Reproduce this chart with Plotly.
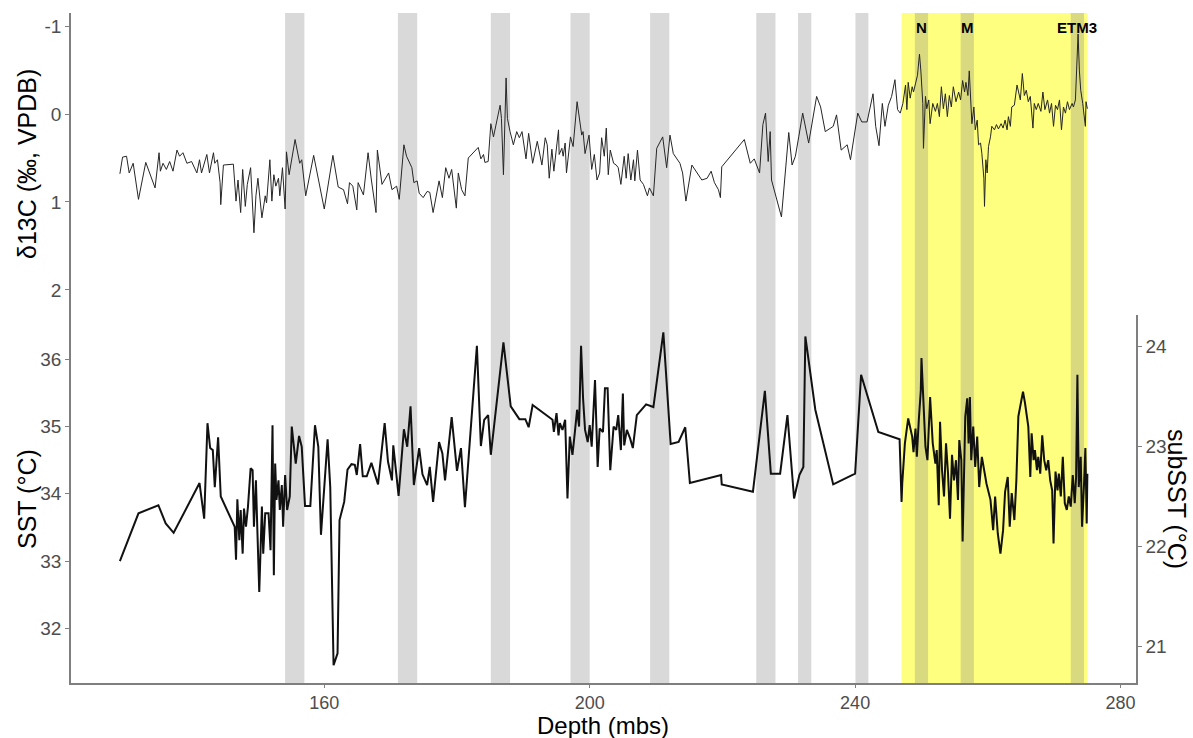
import plotly.graph_objects as go

# ---- carbon isotope record ----
d13c_depth = [129.2, 129.6, 130.2, 130.6, 131.2, 132.0, 133.1, 134.5, 135.1, 135.3, 135.7, 136.2, 136.7, 137.2,
              137.8, 138.2, 138.7, 139.3, 140.0, 140.8, 141.2, 141.5, 142.3, 142.7, 143.3, 143.5, 143.9, 144.0,
              144.3, 144.4, 144.8, 146.3, 146.7, 147.0, 147.4, 147.7, 148.1, 148.4, 148.9, 149.4, 149.7, 150.0,
              150.6, 151.1, 151.3, 151.8, 152.1, 152.4, 152.7, 153.1, 153.3, 153.7, 154.1, 154.3, 154.7, 155.6,
              156.3, 156.6, 157.2, 158.4, 160.0, 161.3, 162.1, 162.9, 163.5, 163.8, 164.3, 164.9, 165.1, 165.9,
              166.6, 167.1, 167.8, 168.0, 168.7, 169.7, 170.2, 170.9, 171.3, 172.0, 172.4, 173.2, 173.5, 174.0,
              174.3, 174.9, 175.5, 175.9, 176.4, 177.3, 177.8, 178.3, 178.8, 179.2, 179.9, 180.2, 180.7, 181.2,
              181.7, 183.2, 183.6, 184.0, 184.2, 184.7, 185.1, 185.5, 186.5, 186.7, 187.0, 187.4, 187.6, 188.0,
              188.5, 189.0, 189.4, 189.8, 190.4, 190.8, 191.4, 192.1, 192.8, 193.3, 193.6, 193.9, 194.3, 194.6,
              195.0, 195.3, 195.4, 195.8, 196.0, 196.3, 196.5, 196.8, 197.1, 197.5, 198.1, 198.8, 199.0, 199.3,
              199.9, 200.3, 200.7, 201.1, 201.5, 201.8, 202.2, 202.5, 202.8, 203.1, 203.6, 204.0, 204.3, 204.7,
              205.2, 205.5, 205.8, 206.2, 206.6, 206.8, 207.2, 207.6, 208.1, 208.7, 209.0, 209.6, 210.1, 211.0,
              211.6, 212.1, 212.6, 213.6, 214.0, 214.5, 215.4, 216.9, 217.7, 218.3, 218.8, 219.4, 219.7, 219.9,
              223.3, 224.2, 224.8, 225.6, 226.1, 226.5, 226.9, 227.2, 227.4, 228.9, 230.0, 230.5, 231.0, 231.5,
              232.1, 233.0, 234.2, 234.8, 235.5, 236.7, 237.2, 237.9, 238.8, 239.3, 240.4, 241.0, 241.8, 242.7,
              243.1, 243.6, 244.1, 244.5, 245.0, 245.5, 246.0, 246.4, 246.8,
              247.2, 247.6, 247.8, 248.0, 248.3, 248.6, 248.8, 249.1, 249.4, 249.7, 249.9, 250.2, 250.3, 250.6,
              250.8, 251.1, 251.3, 251.7, 252.1, 252.4, 252.7, 253.0, 253.3, 253.6, 253.9, 254.2, 254.5, 254.8,
              255.2, 255.6, 255.9, 256.2, 256.5, 256.7, 257.0, 257.2, 257.4, 257.6, 257.9, 258.1, 258.4, 258.6,
              258.9, 259.1, 259.4, 259.5, 259.7, 259.9, 260.1, 260.4, 260.6, 261.0, 261.3, 261.6, 262.0, 262.3,
              262.6, 262.9, 263.1, 263.4, 263.6, 264.0, 264.4, 264.6, 264.9, 265.2, 265.5, 265.8, 266.1, 266.4,
              266.6, 266.8, 267.0, 267.3, 267.6, 268.0, 268.3, 268.6, 269.0, 269.3, 269.6, 269.9, 270.2, 270.5,
              270.8, 271.1, 271.4, 271.7, 272.0, 272.3, 272.7, 272.9, 273.2, 273.4, 273.6, 273.8, 274.0, 274.3,
              274.5, 274.7, 274.8, 275.0]
d13c = [0.68, 0.49, 0.48, 0.67, 0.56, 0.97, 0.55, 0.84, 0.44, 0.65, 0.56, 0.63, 0.54, 0.65,
        0.41, 0.48, 0.44, 0.56, 0.54, 0.67, 0.52, 0.67, 0.46, 0.67, 0.44, 0.56, 0.52, 0.61,
        0.78, 1.03, 0.58, 0.57, 0.99, 0.75, 1.12, 0.63, 1.05, 0.80, 0.61, 1.35, 0.93, 0.73,
        1.18, 0.93, 1.01, 0.52, 0.99, 0.69, 0.82, 0.73, 0.93, 0.61, 1.08, 0.43, 0.69, 0.29,
        0.56, 0.52, 0.93, 0.47, 1.08, 0.47, 0.83, 0.86, 1.02, 0.78, 0.82, 1.09, 0.78, 0.92,
        0.44, 0.75, 1.12, 0.41, 0.80, 0.67, 0.86, 0.82, 0.97, 0.35, 0.48, 0.61, 0.78, 0.76,
        0.90, 0.95, 0.88, 0.89, 1.12, 0.76, 0.95, 0.61, 0.73, 0.63, 1.07, 0.67, 0.86, 0.93,
        0.50, 0.38, 0.51, 0.46, 0.55, 0.54, 0.11, 0.26, -0.10, 0.05, 0.69, -0.41, 0.05, 0.20,
        0.35, 0.20, 0.27, 0.20, 0.51, 0.22, 0.56, 0.31, 0.58, 0.27, 0.35, 0.73, 0.40, 0.65,
        0.41, 0.18, 0.46, 0.39, 0.48, 0.33, 0.67, 0.45, 0.26, 0.37, -0.14, 0.24, 0.20, 0.45,
        0.24, 0.63, 0.46, 0.75, 0.67, 0.27, 0.48, 0.16, 0.69, 0.41, 0.56, 0.58, 0.61, 0.80,
        0.48, 0.73, 0.45, 0.75, 0.52, 0.76, 0.41, 0.75, 0.80, 0.93, 0.84, 0.93, 0.39, 0.26,
        0.61, 0.24, 0.45, 0.56, 0.67, 0.99, 0.58, 0.75, 0.73, 0.65, 0.78, 0.86, 0.95, 0.60,
        0.29, 0.56, 0.51, 0.67, 0.12, -0.01, 0.54, 0.20, 0.75, 1.17, 0.21, 0.58, 0.48, 0.26,
        -0.01, 0.33, -0.20, -0.08, 0.20, 0.14, 0.01, 0.41, 0.35, 0.52, -0.01, 0.09, 0.09, -0.23,
        0.14, 0.36, -0.12, 0.14, -0.10, -0.20, -0.39, -0.05, -0.01,
        -0.12, -0.33, -0.05, -0.36, -0.18, -0.31, -0.25, -0.33, -0.44, -0.68, -0.50, -0.12, 0.39, -0.20,
        -0.06, -0.16, 0.11, -0.12, -0.03, -0.12, 0.03, -0.31, -0.06, -0.23, 0.03, -0.21, -0.08, -0.31,
        -0.14, -0.25, -0.16, -0.38, -0.25, -0.36, -0.21, -0.49, -0.08, 0.11, -0.08, 0.18, 0.07, 0.35,
        0.33, 0.45, 0.73, 1.05, 0.52, 0.67, 0.37, 0.26, 0.14, 0.18, 0.12, 0.17, 0.11, 0.16,
        0.07, 0.18, 0.03, 0.14, -0.08, -0.10, -0.33, -0.25, -0.16, -0.46, -0.21, -0.27, -0.14, -0.20,
        -0.01, 0.16, -0.12, -0.05, -0.12, -0.03, -0.25, -0.05, -0.16, -0.01, -0.12, 0.14, -0.10, -0.05,
        -0.16, 0.18, -0.08, -0.01, -0.14, -0.05, -0.12, -0.08, -0.16, -0.57, -0.91, -0.49, -0.27, -0.12,
        0.03, 0.14, -0.14, -0.06]

# ---- sea surface temperature record ----
sst_depth = [129.2, 132.0, 135.0, 136.1, 137.3, 141.2, 141.9, 142.4, 142.8, 143.2, 143.5, 144.0, 144.4, 145.3,
             146.5, 146.7, 146.9, 147.2, 147.4, 147.7, 147.9, 148.2, 148.5, 148.9, 149.2, 149.4, 149.7, 149.9,
             150.2, 150.6, 150.8, 151.1, 151.6, 151.9, 152.2, 152.4, 152.6, 152.8, 153.1, 153.3, 153.6, 153.8,
             154.1, 154.4, 154.8, 155.1, 155.7, 156.2, 156.6, 157.1, 157.9, 158.6, 159.1, 159.5, 160.5, 160.9,
             161.4, 162.0, 162.3, 163.0, 163.5, 164.1, 164.6, 164.9, 165.4, 165.8, 166.4, 167.1, 168.1, 169.1,
             169.6, 170.2, 170.4, 171.2, 171.7, 172.0, 172.5, 173.0, 173.5, 174.3, 174.8, 175.5, 175.9, 176.4,
             177.3, 177.8, 178.2, 179.2, 180.0, 180.6, 181.2, 183.0, 183.6, 184.1, 184.7, 185.1, 187.0, 188.1,
             189.4, 190.3, 190.8, 191.4, 194.4, 194.6, 195.0, 195.3, 195.5, 195.9, 196.3, 196.5, 196.65, 197.0,
             197.4, 197.8, 198.1, 198.4, 198.7, 199.0, 199.3, 199.7, 200.0, 200.3, 200.8, 201.2, 201.5, 202.0,
             202.3, 202.7, 203.1, 203.6, 204.0, 204.3, 204.7, 205.0, 205.2, 205.6, 206.1, 206.5, 207.1, 208.5,
             209.6, 211.1, 212.2, 213.4, 214.4, 215.1, 219.8, 219.9, 224.6, 226.4, 227.3, 228.7, 229.8, 230.8,
             231.6, 232.2, 232.5, 234.0, 236.7, 240.0, 240.9, 243.5, 246.7,
             247.0, 247.1, 247.5, 248.0, 248.6, 248.8, 249.1, 249.3, 249.6, 249.9, 250.0, 250.2, 250.6, 250.9,
             251.3, 251.7, 252.1, 252.3, 252.6, 252.8, 253.1, 253.4, 253.7, 254.0, 254.3, 254.6, 254.9, 255.2,
             255.5, 255.7, 256.0, 256.2, 256.4, 256.6, 256.9, 257.1, 257.3, 257.5, 257.8, 258.1, 258.4, 258.7,
             259.1, 259.8, 260.4, 260.8, 261.1, 261.5, 261.9, 262.3, 262.6, 263.0, 263.3, 263.6, 264.0, 264.3,
             264.6, 265.0, 265.3, 265.6, 265.9, 266.1, 266.4, 266.6, 266.9, 267.1, 267.4, 267.6, 267.9, 268.2,
             268.5, 268.8, 269.1, 269.4, 269.7, 269.9, 270.2, 270.5, 270.7, 271.0, 271.3, 271.6, 271.9, 272.2,
             272.5, 272.8, 273.1, 273.3, 273.5, 273.7, 274.0, 274.2, 274.5, 274.7, 274.9, 275.0]
sst = [33.00, 33.71, 33.83, 33.56, 33.42, 34.16, 33.63, 35.05, 34.68, 34.65, 34.10, 34.84, 33.96, 33.76,
       33.51, 33.02, 33.92, 33.31, 33.76, 33.11, 33.78, 33.51, 33.81, 34.38, 34.35, 33.51, 34.20, 33.51,
       32.54, 33.81, 33.11, 33.71, 33.71, 33.16, 35.02, 32.79, 34.45, 33.91, 34.20, 33.76, 34.13, 33.51,
       34.28, 33.76, 33.96, 35.00, 34.45, 34.86, 34.70, 33.82, 33.82, 35.02, 34.70, 33.39, 34.81, 34.10,
       31.45, 31.63, 33.61, 33.88, 34.36, 34.44, 34.43, 34.28, 34.74, 34.26, 34.26, 34.46, 34.14, 35.05,
       34.48, 34.20, 34.72, 33.97, 34.61, 34.96, 34.70, 35.30, 34.13, 34.68, 34.29, 34.13, 34.40, 33.88,
       34.77, 34.60, 34.20, 35.14, 34.34, 34.68, 33.80, 36.20, 34.71, 35.10, 35.17, 34.58, 36.25, 35.30,
       35.11, 35.11, 34.99, 35.32, 35.10, 34.92, 35.20, 34.87, 35.05, 34.95, 35.10, 34.55, 33.93, 34.85,
       34.58, 34.95, 35.25, 35.00, 36.20, 35.42, 34.95, 34.77, 35.02, 34.70, 35.69, 34.40, 34.97, 34.92,
       35.57, 35.57, 34.35, 35.00, 34.95, 35.17, 34.65, 35.49, 34.72, 34.95, 34.82, 34.68, 35.17, 35.33,
       35.29, 36.40, 34.74, 34.77, 34.99, 34.16, 34.28, 34.14, 34.03, 35.53, 34.30, 34.30, 35.17, 33.93,
       34.28, 34.40, 36.34, 35.25, 34.14, 34.30, 35.77, 34.92, 34.81,
       33.88, 34.15, 34.75, 35.12, 34.85, 34.62, 34.97, 34.55, 35.10, 35.54, 36.02, 35.49, 34.70, 34.50,
       35.44, 34.75, 34.45, 34.65, 33.83, 35.07, 34.35, 33.96, 34.75, 34.30, 33.63, 34.58, 34.20, 34.50,
       33.91, 34.80, 34.50, 33.29, 34.45, 35.15, 35.42, 34.75, 35.44, 34.50, 35.00, 34.40, 34.85, 34.10,
       34.55, 34.15, 33.91, 33.46, 33.96, 33.41, 33.11, 33.46, 34.03, 34.25, 33.51, 34.01, 33.61, 34.20,
       35.15, 35.39, 35.52, 35.35, 35.10, 35.00, 34.25, 34.90, 34.50, 34.65, 34.35, 34.55, 34.30, 34.87,
       34.50, 34.35, 34.50, 34.20, 34.05, 33.26, 34.33, 34.05, 34.30, 33.96, 34.55, 33.86, 33.76, 33.96,
       33.81, 34.28, 33.86, 34.25, 35.77, 34.10, 34.55, 33.51, 34.15, 34.68, 33.56, 34.30]

# subsurface temperature scale: linear relation to SST
SUB_SLOPE = 1.487
SUB_ICEPT = 36.19 - SUB_SLOPE * 24.0
subsst = [(v - SUB_ICEPT) / SUB_SLOPE for v in sst]

# ---- shaded depth intervals ----
band_start = [154.1, 171.1, 185.1, 197.1, 209.1, 225.1, 231.4, 240.05, 249.0, 255.9, 272.5]
band_end = [157.0, 174.0, 188.0, 200.0, 212.0, 228.0, 233.4, 242.0, 251.0, 257.9, 274.5]
interval_start, interval_end = 247.0, 275.0
event_labels = ["N", "M", "ETM3"]
event_depth = [250.0, 256.9, 273.5]

d13c_ticks = [-1, 0, 1, 2]
sst_ticks = [32, 33, 34, 35, 36]
subsst_ticks = [21, 22, 23, 24]
depth_ticks = [160, 200, 240, 280]

AXIS_GREY = "#7f7f7f"
TICK_GREY = "#4d4d4d"
FONT = "Liberation Sans, Arial, sans-serif"
SPLIT = 0.5493

fig = go.Figure()

fig.add_trace(go.Scatter(x=d13c_depth, y=d13c, mode="lines", xaxis="x", yaxis="y",
                         line=dict(color="#262626", width=1.0), hoverinfo="skip", showlegend=False))
fig.add_trace(go.Scatter(x=sst_depth, y=sst, mode="lines", xaxis="x", yaxis="y2",
                         line=dict(color="#111111", width=2.0), hoverinfo="skip", showlegend=False))
fig.add_trace(go.Scatter(x=sst_depth, y=subsst, mode="lines", xaxis="x", yaxis="y3",
                         line=dict(color="rgba(0,0,0,0)", width=0), hoverinfo="skip", showlegend=False))

shapes = [dict(type="rect", xref="x", yref="paper", x0=interval_start, x1=interval_end, y0=0, y1=1,
               fillcolor="rgba(255,255,0,0.5)", line=dict(width=0), layer="below")]
for a, b in zip(band_start, band_end):
    shapes.append(dict(type="rect", xref="x", yref="paper", x0=a, x1=b, y0=0, y1=1,
                       fillcolor="rgba(128,128,128,0.3)", line=dict(width=0), layer="below"))

annotations = []
for lab, dep in zip(event_labels, event_depth):
    annotations.append(dict(x=dep, y=-0.98, xref="x", yref="y", text=f"<b>{lab}</b>", showarrow=False,
                            font=dict(family=FONT, size=15, color="black"), xanchor="center", yanchor="middle"))

pixel_titles = [
    dict(x=27, y=164, text="δ13C (‰, VPDB)", textangle=-90, size=25),
    dict(x=27, y=499, text="SST (°C)", textangle=-90, size=25),
    dict(x=1177, y=499, text="subSST (°C)", textangle=90, size=25),
    dict(x=603, y=725, text="Depth (mbs)", textangle=0, size=24),
]

# pixel-placed titles converted to paper coordinates
L, R, T, B = 71, 57, 13, 55
W, H = 1193, 738
pw, ph = W - L - R, H - T - B
for t in pixel_titles:
    annotations.append(dict(x=(t["x"] - L) / pw, y=(H - B - t["y"]) / ph, xref="paper", yref="paper",
                            text=t["text"], textangle=t["textangle"], showarrow=False,
                            font=dict(family=FONT, size=t["size"], color="black"),
                            xanchor="center", yanchor="middle", borderpad=0))

tick_font = dict(family=FONT, size=19, color=TICK_GREY)
axis_common = dict(showgrid=False, zeroline=False, showline=True, linecolor=AXIS_GREY, linewidth=1.5,
                   ticks="outside", ticklen=4, tickwidth=1.2, tickcolor=AXIS_GREY, tickfont=tick_font)
x_axis_style = dict(axis_common, ticklen=3, tickfont=dict(tick_font, size=18))

fig.update_layout(
    width=W, height=H,
    margin=dict(l=L, r=R, t=T, b=B),
    paper_bgcolor="white", plot_bgcolor="white",
    showlegend=False,
    shapes=shapes,
    annotations=annotations,
    xaxis=dict(range=[121.83, 282.33], anchor="y2", tickvals=depth_ticks, **x_axis_style),
    yaxis=dict(domain=[SPLIT, 1], range=[2.284, -1.148], tickvals=d13c_ticks,
               ticktext=[str(v) for v in d13c_ticks], anchor="x", **axis_common),
    yaxis2=dict(domain=[0, SPLIT], range=[31.187, 36.659], tickvals=sst_ticks, anchor="x", **axis_common),
    yaxis3=dict(domain=[0, SPLIT], range=[20.633, 24.317], tickvals=subsst_ticks, anchor="x",
                overlaying="y2", side="right", **axis_common),
)

fig.write_html("out.html")
